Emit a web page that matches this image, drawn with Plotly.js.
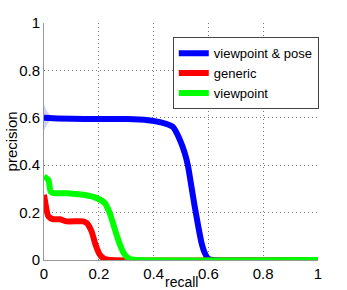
<!DOCTYPE html>
<html><head><meta charset="utf-8">
<script src="https://cdn.plot.ly/plotly-3.0.1.min.js"></script>
<style>html,body{margin:0;padding:0;background:#fff;}#c{width:347px;height:290px;}</style>
</head><body><div id="c"></div>
<script>
// viewpoint & pose
const poseRecall = [0, 0.05, 0.15, 0.30, 0.38, 0.43, 0.47, 0.495, 0.514, 0.526, 0.538, 0.55, 0.563, 0.575, 0.587, 0.599, 0.617, 1];
const posePrec   = [0.60, 0.597, 0.595, 0.595, 0.59, 0.58, 0.562, 0.51, 0.45, 0.394, 0.31, 0.226, 0.142, 0.072, 0.029, 0.006, 0, 0];
// band around viewpoint & pose near start
const bandRecall = [0, 0.01, 0.02, 0.035, 0.05, 0.07];
const bandUpper  = [0.655, 0.63, 0.615, 0.605, 0.60, 0.598];
const bandLower  = [0.545, 0.57, 0.585, 0.595, 0.597, 0.596];
// generic
const genRecall = [0, 0.008, 0.016, 0.034, 0.058, 0.083, 0.143, 0.156, 0.174, 0.186, 0.204, 0.222, 0.24, 1];
const genPrec   = [0.275, 0.22, 0.184, 0.172, 0.172, 0.163, 0.163, 0.156, 0.12, 0.072, 0.022, 0.004, 0, 0];
// viewpoint
const vpRecall = [0, 0.016, 0.024, 0.034, 0.083, 0.143, 0.192, 0.222, 0.24, 0.259, 0.277, 0.295, 0.313, 0.338, 1];
const vpPrec   = [0.352, 0.338, 0.289, 0.282, 0.282, 0.275, 0.261, 0.24, 0.198, 0.128, 0.065, 0.022, 0.004, 0, 0];
const tickVals = [0, 0.2, 0.4, 0.6, 0.8, 1];
const tickText = ['0', '0.2', '0.4', '0.6', '0.8', '1'];

const FONT = 'Liberation Sans, Arial, sans-serif';
const traces = [
  {x: bandRecall, y: bandLower, mode: 'lines', line: {width: 0, color: 'rgba(0,0,255,0)'}, showlegend: false, hoverinfo: 'skip'},
  {x: bandRecall, y: bandUpper, mode: 'lines', fill: 'tonexty', fillcolor: 'rgba(120,120,255,0.35)', line: {width: 0, color: 'rgba(0,0,255,0)'}, showlegend: false, hoverinfo: 'skip'},
  {x: poseRecall, y: posePrec, mode: 'lines', name: 'viewpoint &amp; pose', line: {color: '#0000ff', width: 6, shape: 'spline', smoothing: 0.6}},
  {x: genRecall, y: genPrec, mode: 'lines', name: 'generic', line: {color: '#ff0000', width: 6, shape: 'spline', smoothing: 0.6}},
  {x: vpRecall, y: vpPrec, mode: 'lines', name: 'viewpoint', line: {color: '#00ff00', width: 6, shape: 'spline', smoothing: 0.6}}
];

const axisCommon = {
  range: [0, 1], tickvals: tickVals, ticktext: tickText,
  showgrid: true, gridcolor: '#777', griddash: '1px,3px', gridwidth: 1,
  showline: true, linecolor: '#999', linewidth: 1, mirror: false,
  zeroline: false, ticks: '',
  tickfont: {family: FONT, size: 15, color: '#000'},
  fixedrange: true
};

const layout = {
  width: 347, height: 290,
  margin: {l: 44, r: 29, t: 23, b: 30},
  paper_bgcolor: '#fff', plot_bgcolor: '#fff',
  showlegend: true,
  legend: {x: 0.47, y: 0.94, xanchor: 'left', yanchor: 'top', bgcolor: '#fff', bordercolor: '#444', borderwidth: 1,
           traceorder: 'normal',
           font: {family: FONT, size: 13, color: '#000'}, itemwidth: 30, tracegroupgap: 0},
  xaxis: Object.assign({}, axisCommon),
  yaxis: Object.assign({}, axisCommon),
  annotations: [
    {text: 'recall', xref: 'paper', yref: 'paper', x: 0.5, y: -0.135, xanchor: 'center', yanchor: 'bottom', showarrow: false,
     font: {family: FONT, size: 14, color: '#000'}},
    {text: 'precision', xref: 'paper', yref: 'paper', x: -0.117, y: 0.5, xanchor: 'center', yanchor: 'middle', textangle: -90, showarrow: false,
     font: {family: FONT, size: 15, color: '#000'}}
  ]
};

Plotly.newPlot('c', traces, layout, {displayModeBar: false, staticPlot: true});
</script></body></html>
